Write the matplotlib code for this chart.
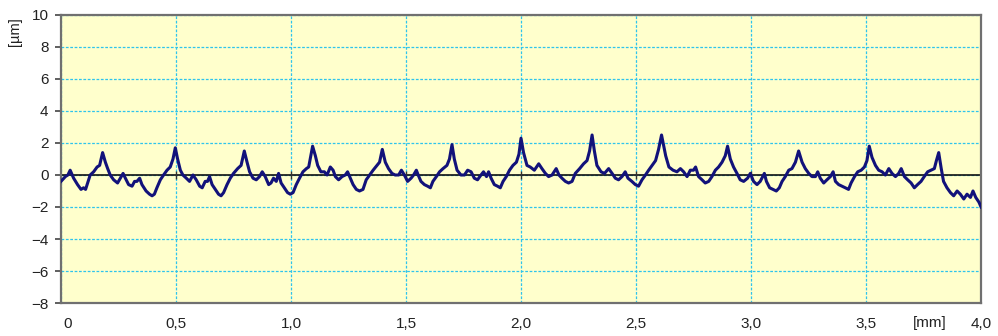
import numpy as np
import matplotlib.pyplot as plt
import matplotlib.transforms as mtransforms

plt.rcParams['font.family'] = ['Liberation Sans', 'DejaVu Sans']

# profile: position [mm], height [um]
pos_mm = [
    0.000, 0.019, 0.030, 0.040, 0.055, 0.072, 0.087, 0.098, 0.107, 0.116,
    0.127, 0.142, 0.157, 0.168, 0.181, 0.193, 0.203, 0.214, 0.229, 0.246,
    0.258, 0.270, 0.280, 0.294, 0.309, 0.320, 0.330, 0.342, 0.352, 0.370,
    0.385, 0.396, 0.406, 0.417, 0.432, 0.446, 0.461, 0.475, 0.487, 0.497,
    0.507, 0.519, 0.530, 0.545, 0.559, 0.574, 0.588, 0.603, 0.614, 0.627,
    0.637, 0.646, 0.657, 0.671, 0.685, 0.696, 0.707, 0.722, 0.736, 0.750,
    0.768, 0.783, 0.797, 0.809, 0.820, 0.835, 0.849, 0.863, 0.875, 0.888,
    0.903, 0.913, 0.924, 0.936, 0.946, 0.957, 0.971, 0.985, 0.997, 1.009,
    1.023, 1.037, 1.052, 1.067, 1.077, 1.094, 1.106, 1.116, 1.130, 1.145,
    1.157, 1.171, 1.183, 1.193, 1.207, 1.222, 1.236, 1.246, 1.255, 1.270,
    1.284, 1.298, 1.313, 1.327, 1.342, 1.357, 1.374, 1.385, 1.397, 1.410,
    1.424, 1.439, 1.453, 1.468, 1.480, 1.493, 1.507, 1.522, 1.533, 1.545,
    1.553, 1.565, 1.580, 1.594, 1.606, 1.617, 1.632, 1.646, 1.661, 1.678,
    1.689, 1.700, 1.710, 1.722, 1.739, 1.754, 1.768, 1.783, 1.797, 1.811,
    1.826, 1.837, 1.850, 1.859, 1.870, 1.884, 1.898, 1.910, 1.922, 1.936,
    1.950, 1.965, 1.980, 1.991, 2.000, 2.011, 2.026, 2.040, 2.058, 2.077,
    2.091, 2.106, 2.120, 2.135, 2.153, 2.165, 2.178, 2.193, 2.207, 2.222,
    2.236, 2.255, 2.272, 2.287, 2.298, 2.309, 2.319, 2.330, 2.348, 2.363,
    2.381, 2.396, 2.410, 2.424, 2.439, 2.453, 2.465, 2.482, 2.497, 2.511,
    2.526, 2.541, 2.555, 2.570, 2.585, 2.598, 2.611, 2.629, 2.643, 2.661,
    2.678, 2.693, 2.707, 2.722, 2.736, 2.750, 2.759, 2.772, 2.787, 2.801,
    2.816, 2.830, 2.845, 2.859, 2.874, 2.888, 2.898, 2.910, 2.924, 2.939,
    2.953, 2.968, 2.985, 2.997, 3.011, 3.026, 3.040, 3.058, 3.067, 3.081,
    3.096, 3.110, 3.123, 3.135, 3.149, 3.164, 3.178, 3.193, 3.207, 3.222,
    3.236, 3.251, 3.265, 3.280, 3.290, 3.301, 3.316, 3.330, 3.345, 3.357,
    3.367, 3.381, 3.396, 3.410, 3.424, 3.435, 3.450, 3.464, 3.479, 3.493,
    3.504, 3.514, 3.526, 3.541, 3.555, 3.570, 3.584, 3.599, 3.613, 3.628,
    3.642, 3.653, 3.667, 3.681, 3.696, 3.710, 3.724, 3.739, 3.753, 3.768,
    3.783, 3.797, 3.806, 3.816, 3.827, 3.837, 3.852, 3.867, 3.881, 3.896,
    3.910, 3.925, 3.939, 3.954, 3.965, 3.977, 3.991, 4.000,
]
height_um = [
    -0.4, -0.1, 0.0, 0.3, -0.2, -0.6, -0.9, -0.8, -0.9, -0.5,
    0.0, 0.2, 0.5, 0.6, 1.4, 0.8, 0.4, 0.0, -0.3, -0.5,
    -0.2, 0.1, -0.2, -0.6, -0.7, -0.4, -0.4, -0.2, -0.6, -1.0,
    -1.2, -1.3, -1.2, -0.8, -0.3, 0.0, 0.3, 0.5, 1.0, 1.7,
    1.0, 0.3, 0.0, -0.2, -0.4, 0.0, -0.3, -0.7, -0.8, -0.4,
    -0.4, -0.1, -0.6, -0.9, -1.2, -1.3, -1.1, -0.6, -0.2, 0.1,
    0.4, 0.6, 1.5, 0.8, 0.2, -0.2, -0.3, -0.1, 0.2, -0.1,
    -0.6, -0.5, -0.2, -0.4, 0.1, -0.5, -0.8, -1.1, -1.2, -1.1,
    -0.6, -0.2, 0.2, 0.4, 0.5, 1.8, 1.2, 0.6, 0.2, 0.2,
    0.0, 0.5, 0.3, -0.1, -0.3, -0.1, 0.0, 0.2, -0.1, -0.6,
    -0.9, -1.0, -0.9, -0.3, 0.0, 0.3, 0.6, 0.8, 1.6, 0.8,
    0.4, 0.1, 0.0, 0.0, 0.3, 0.0, -0.4, -0.2, 0.0, 0.3,
    0.0, -0.4, -0.6, -0.7, -0.8, -0.4, -0.1, 0.2, 0.4, 0.6,
    1.0, 1.9, 1.0, 0.3, 0.0, 0.0, 0.3, 0.2, -0.2, -0.3,
    0.0, 0.2, -0.1, 0.2, -0.2, -0.6, -0.7, -0.8, -0.4, -0.1,
    0.3, 0.6, 0.8, 1.3, 2.3, 1.4, 0.6, 0.5, 0.3, 0.7,
    0.4, 0.1, -0.1, 0.0, 0.4, 0.0, -0.2, -0.4, -0.5, -0.4,
    0.1, 0.4, 0.7, 0.9, 1.5, 2.5, 1.5, 0.6, 0.2, 0.1,
    0.4, 0.1, -0.2, -0.3, -0.1, 0.2, -0.2, -0.4, -0.6, -0.7,
    -0.3, 0.0, 0.3, 0.6, 0.9, 1.6, 2.5, 1.2, 0.5, 0.3,
    0.2, 0.4, 0.2, -0.1, 0.3, 0.3, 0.5, -0.1, -0.3, -0.5,
    -0.4, -0.1, 0.3, 0.5, 0.8, 1.2, 1.8, 1.0, 0.5, 0.1,
    -0.3, -0.4, -0.2, 0.1, -0.4, -0.6, -0.4, 0.1, -0.4, -0.8,
    -0.9, -1.0, -0.8, -0.4, -0.1, 0.3, 0.4, 0.8, 1.5, 0.8,
    0.4, 0.1, -0.1, -0.1, 0.2, -0.2, -0.5, -0.3, -0.1, 0.2,
    -0.4, -0.6, -0.7, -0.8, -0.9, -0.5, -0.1, 0.2, 0.3, 0.5,
    0.9, 1.8, 1.1, 0.6, 0.3, 0.2, 0.0, 0.4, 0.1, -0.1,
    0.1, 0.4, -0.1, -0.3, -0.5, -0.8, -0.6, -0.4, -0.1, 0.2,
    0.3, 0.4, 0.9, 1.4, 0.4, -0.4, -0.8, -1.1, -1.3, -1.0,
    -1.2, -1.5, -1.2, -1.4, -1.0, -1.4, -1.7, -2.0,
]

x_ticks = [0, 0.5, 1.0, 1.5, 2.0, 2.5, 3.0, 3.5, 4.0]
x_labels = ['0', '0,5', '1,0', '1,5', '2,0', '2,5', '3,0', '3,5', '4,0']
y_ticks = [-8, -6, -4, -2, 0, 2, 4, 6, 8, 10]

fig = plt.figure(figsize=(9.98, 3.36), dpi=100)
ax = fig.add_axes([0.0611, 0.0982, 0.9219, 0.8572])
ax.set_facecolor('#FFFFCC')

ax.set_xlim(0, 4.0)
ax.set_ylim(-8, 10)
ax.set_xticks(x_ticks)
ax.set_xticklabels(x_labels)
ax.set_yticks(y_ticks)

ax.grid(True, color='#2EC4EC', linestyle=(0, (2.2, 1.3)), linewidth=0.9)
ax.set_axisbelow(True)

# zero axis with small cross ticks
ax.axhline(0, color='#111111', linewidth=1.2, zorder=2)
ax.plot(x_ticks[1:-1], [0] * len(x_ticks[1:-1]), linestyle='none',
        marker='|', markersize=6, color='#333333', mew=1.0, zorder=2)

ax.plot(pos_mm, height_um, color='#12127A', linewidth=2.2, zorder=3)

for side in ['left', 'right', 'top', 'bottom']:
    ax.spines[side].set_color('#707070')
    ax.spines[side].set_linewidth(1.6)

ax.tick_params(axis='y', length=4, width=1.2, color='#444444', pad=5,
               labelsize=11, labelcolor='#222222')
ax.tick_params(axis='x', length=0, pad=10, labelsize=11, labelcolor='#222222')

# first x label sits slightly to the right of its tick
offset = mtransforms.ScaledTranslation(7 / 100, 0, fig.dpi_scale_trans)
lbl0 = ax.get_xticklabels()[0]
lbl0.set_transform(lbl0.get_transform() + offset)

fig.text(15 / 998, 1 - 32 / 336, '[µm]', rotation=90, ha='center', va='center',
         fontsize=10.5, color='#222222')
fig.text(930 / 998, 1 - 323 / 336, '[mm]', ha='center', va='center',
         fontsize=11, color='#222222')

fig.savefig('out.png', dpi=100)
